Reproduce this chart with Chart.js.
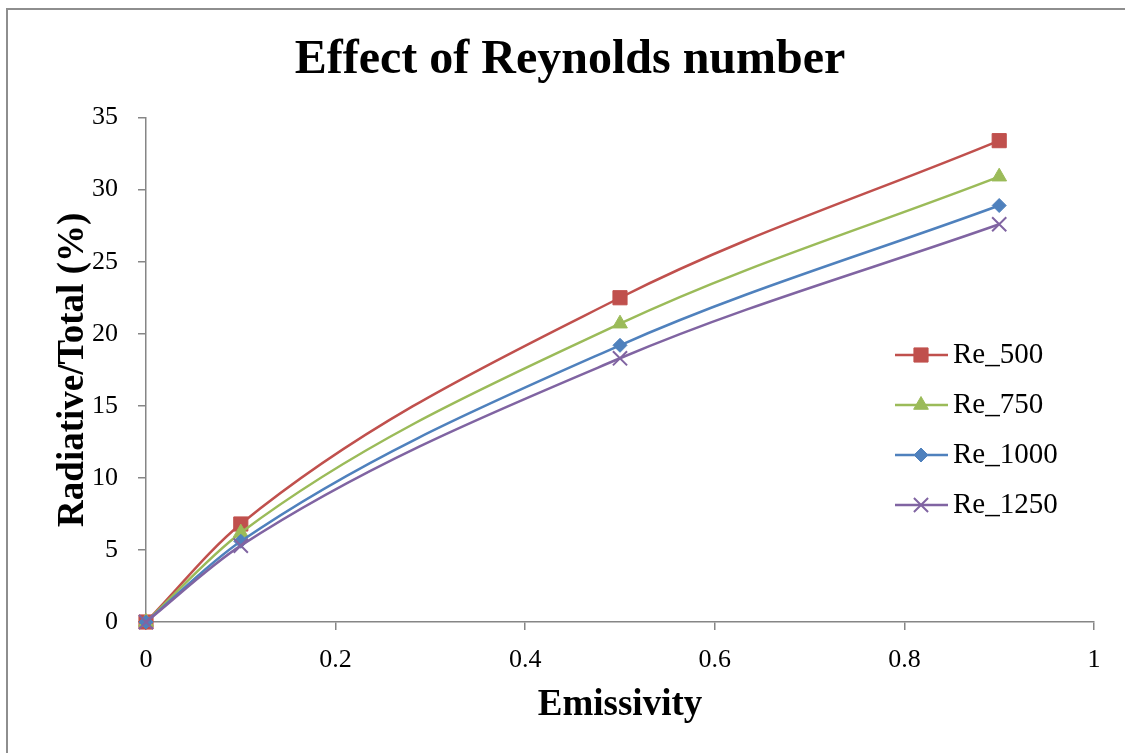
<!DOCTYPE html>
<html>
<head>
<meta charset="utf-8">
<script src="https://cdn.jsdelivr.net/npm/chart.js@4.4.0/dist/chart.umd.min.js"></script>
<style>
html, body { margin:0; padding:0; background:#fff; overflow:hidden; }
#wrap { position:relative; width:1125px; height:753px; }
#frame { position:absolute; left:6px; top:8px; width:1200px; height:800px; border-left:2px solid #8e8e8e; border-top:2px solid #8e8e8e; pointer-events:none; }
</style>
</head>
<body>
<div id="wrap">
<canvas id="myChart" width="1125" height="753"></canvas>
<div id="frame"></div>
</div>
<script>
// values
let emissivity = [0, 0.1, 0.5, 0.9];
let re500  = [0, 6.8, 22.5, 33.4];
let re750  = [0, 6.2, 20.7, 30.9];
let re1000 = [0, 5.6, 19.2, 28.9];
let re1250 = [0, 5.3, 18.3, 27.6];
let seriesNames = ['Re_500', 'Re_750', 'Re_1000', 'Re_1250'];
let xTickLabels = ['0', '0.2', '0.4', '0.6', '0.8', '1'];
let yTickLabels = ['0', '5', '10', '15', '20', '25', '30', '35'];

let serif = '"Liberation Serif", "Times New Roman", serif';
let axisGray = '#868686';

function pts(ys) {
    return emissivity.map((x, i) => ({x: x, y: ys[i]}));
}

function series(i, ys, color, style, radius, order) {
    return {
        label: seriesNames[i],
        data: pts(ys),
        borderColor: color,
        backgroundColor: color,
        pointBackgroundColor: color,
        pointBorderColor: color,
        borderWidth: 2.5,
        pointStyle: style,
        pointRadius: radius,
        pointBorderWidth: style === 'crossRot' ? 2 : 1,
        cubicInterpolationMode: 'monotone',
        clip: false,
        order: order
    };
}

// legend drawn over the plot, line + marker like the original
const sideLegend = {
    id: 'sideLegend',
    afterDraw(chart) {
        const ctx = chart.ctx;
        ctx.save();
        chart.data.datasets.forEach((ds, i) => {
            const y = 355 + i * 50;
            ctx.strokeStyle = ds.borderColor;
            ctx.fillStyle = ds.borderColor;
            ctx.lineWidth = ds.borderWidth;
            ctx.beginPath();
            ctx.moveTo(895, y);
            ctx.lineTo(948, y);
            ctx.stroke();
            ctx.lineWidth = ds.pointBorderWidth;
            Chart.helpers.drawPoint(ctx, {
                pointStyle: ds.pointStyle,
                radius: ds.pointRadius,
                borderWidth: ds.pointBorderWidth,
                rotation: 0
            }, 921, y);
            ctx.fillStyle = '#000';
            ctx.font = '29px ' + serif;
            ctx.textBaseline = 'middle';
            ctx.textAlign = 'left';
            ctx.fillText(ds.label, 953, y);
        });
        ctx.restore();
    }
};

let myChart = document.getElementById('myChart').getContext('2d');

let reChart = new Chart(myChart, {
    type: 'line',
    data: {
        datasets: [
            series(0, re500,  '#C0504D', 'rect',     10,  4),
            series(1, re750,  '#9BBB59', 'triangle', 8.5, 3),
            series(2, re1000, '#4F81BD', 'rectRot',  7,   2),
            series(3, re1250, '#8064A2', 'crossRot', 10,  1)
        ]
    },
    options: {
        responsive: false,
        animation: false,
        devicePixelRatio: 1,
        layout: { padding: { left: 46, right: 31, top: 0, bottom: 0 } },
        plugins: {
            legend: { display: false },
            tooltip: { enabled: false },
            title: {
                display: true,
                text: 'Effect of Reynolds number',
                color: '#000',
                font: { family: serif, size: 48, weight: 'bold', lineHeight: 1.2 },
                padding: { top: 32, bottom: 28 }
            }
        },
        scales: {
            x: {
                type: 'linear',
                min: 0,
                max: 1,
                afterFit(scale) { scale.height = 131; },
                border: { color: axisGray, width: 1.5 },
                grid: { display: true, drawOnChartArea: false, drawTicks: true, tickLength: 8, color: axisGray, lineWidth: 1.5 },
                ticks: {
                    stepSize: 0.2,
                    color: '#000',
                    padding: 15,
                    maxRotation: 0,
                    font: { family: serif, size: 26 },
                    callback: (v, i) => xTickLabels[i]
                },
                title: {
                    display: true,
                    text: 'Emissivity',
                    color: '#000',
                    font: { family: serif, size: 37, weight: 'bold', lineHeight: 1.2 },
                    padding: { top: 0, bottom: 25 }
                }
            },
            y: {
                min: 0,
                max: 35,
                afterFit(scale) { scale.width = 100; },
                border: { color: axisGray, width: 1.5 },
                grid: { display: true, drawOnChartArea: false, drawTicks: true, tickLength: 8, color: axisGray, lineWidth: 1.5 },
                ticks: {
                    stepSize: 5,
                    color: '#000',
                    padding: 20,
                    font: { family: serif, size: 26 },
                    callback: (v, i) => yTickLabels[i]
                },
                title: {
                    display: true,
                    text: 'Radiative/Total (%)',
                    color: '#000',
                    font: { family: serif, size: 37, weight: 'bold', lineHeight: 1.2 },
                    padding: { top: 5, bottom: 0 }
                }
            }
        }
    },
    plugins: [sideLegend]
});
</script>
</body>
</html>
